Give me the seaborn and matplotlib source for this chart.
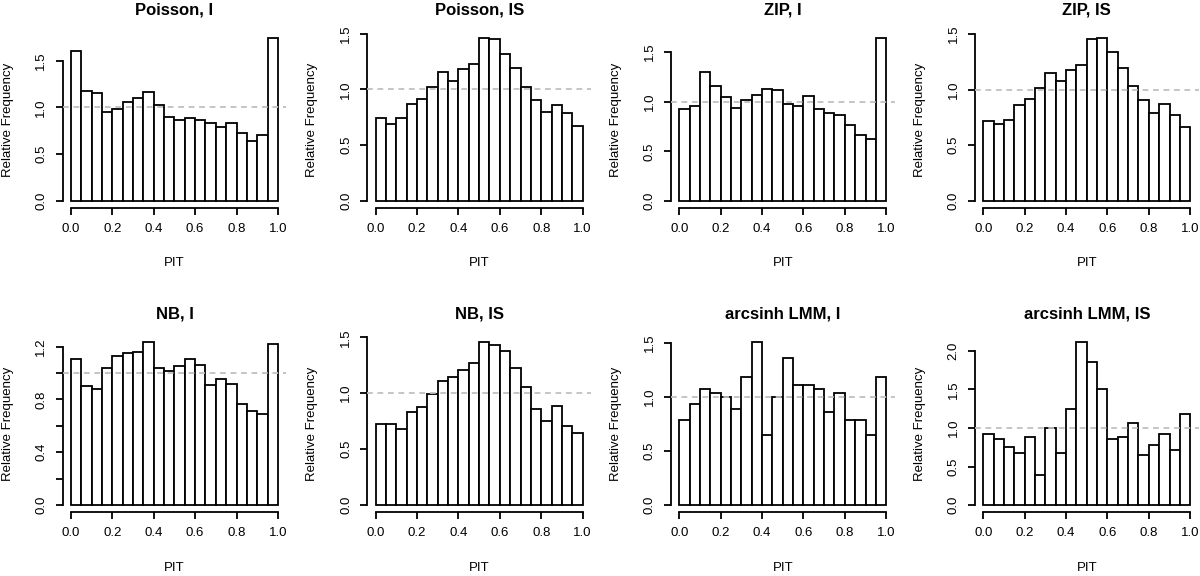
import numpy as np
import pandas as pd
import matplotlib
matplotlib.use("Agg")
import matplotlib.pyplot as plt
import seaborn as sns

# ---- data (relative frequency of PIT values in 20 equal bins on [0, 1]) ----
titles = ["Poisson, I", "Poisson, IS", "ZIP, I", "ZIP, IS",
          "NB, I", "NB, IS", "arcsinh LMM, I", "arcsinh LMM, IS"]

poisson_i = [1.60, 1.18, 1.15, 0.95, 0.98, 1.06, 1.10, 1.165, 1.03, 0.90,
             0.865, 0.89, 0.865, 0.835, 0.795, 0.835, 0.73, 0.64, 0.71, 1.74]
poisson_is = [0.745, 0.69, 0.745, 0.868, 0.916, 1.018, 1.153, 1.072, 1.18, 1.228,
              1.458, 1.455, 1.317, 1.19, 1.024, 0.907, 0.793, 0.862, 0.784, 0.668]
zip_i = [0.922, 0.952, 1.30, 1.163, 1.046, 0.935, 1.016, 1.066, 1.13, 1.12,
         0.982, 0.955, 1.053, 0.925, 0.885, 0.87, 0.77, 0.666, 0.62, 1.64]
zip_is = [0.72, 0.695, 0.728, 0.86, 0.916, 1.015, 1.15, 1.075, 1.177, 1.222,
          1.452, 1.461, 1.335, 1.19, 1.036, 0.904, 0.793, 0.868, 0.775, 0.662]
nb_i = [1.107, 0.90, 0.877, 1.038, 1.132, 1.155, 1.157, 1.233, 1.041, 1.013,
        1.054, 1.107, 1.064, 0.91, 0.952, 0.915, 0.766, 0.71, 0.69, 1.223]
nb_is = [0.725, 0.725, 0.683, 0.832, 0.877, 0.99, 1.112, 1.148, 1.205, 1.27,
         1.455, 1.432, 1.378, 1.226, 1.059, 0.862, 0.755, 0.883, 0.71, 0.647]
lmm_i = [0.785, 0.93, 1.075, 1.035, 1.00, 0.89, 1.18, 1.503, 0.644, 1.00,
         1.358, 1.106, 1.106, 1.075, 0.856, 1.038, 0.785, 0.785, 0.644, 1.18]
lmm_is = [0.926, 0.857, 0.749, 0.68, 0.887, 0.39, 1.00, 0.68, 1.25, 2.11,
          1.857, 1.502, 0.857, 0.887, 1.07, 0.645, 0.784, 0.926, 0.714, 1.18]

series = [poisson_i, poisson_is, zip_i, zip_is, nb_i, nb_is, lmm_i, lmm_is]

# y tick settings per panel (step, labelled every k-th tick)
ytick_step = [0.5, 0.5, 0.5, 0.5, 0.2, 0.5, 0.5, 0.5]
ytick_label_every = [1, 1, 1, 1, 2, 1, 1, 1]

x_ticks = [0.0, 0.2, 0.4, 0.6, 0.8, 1.0]
n_bins = 20

# ---- layout (pixels) ----
W, H = 1200, 576
DPI = 100
col_left = [62.7, 367.4, 671.0, 975.0]
reg_w = 223.5
row_top = [31.7, 335.8]
reg_h = 175.8

sns.set_theme(style="white")
plt.rcParams["font.family"] = ["Liberation Sans", "DejaVu Sans"]
FS = 9.5
LW = 1.3

fig = plt.figure(figsize=(W / DPI, H / DPI), dpi=DPI)
fig.patch.set_facecolor("white")

mids = (np.arange(n_bins) + 0.5) / n_bins

for i, (vals, title) in enumerate(zip(series, titles)):
    r, c = divmod(i, 4)
    left = col_left[c]
    top = row_top[r]
    ax = fig.add_axes([left / W, 1 - (top + reg_h) / H, reg_w / W, reg_h / H])
    ax.set_facecolor("white")

    df = pd.DataFrame({"PIT": mids, "freq": vals})
    sns.histplot(data=df, x="PIT", weights="freq", bins=n_bins,
                 binrange=(0, 1), stat="count",
                 color="white", edgecolor="black", linewidth=LW,
                 alpha=1, ax=ax)
    ax.axhline(1.0, color="#c0c0c0", lw=LW, ls=(0, (3.2, 2.6)), zorder=5)

    ymax = max(vals)
    ax.set_xlim(-0.04, 1.04)
    ax.set_ylim(-0.04 * ymax, 1.04 * ymax)

    step = ytick_step[i]
    yt = np.arange(0, 1.04 * ymax + 1e-9, step)
    yt = [round(v, 2) for v in yt]
    every = ytick_label_every[i]
    ylabs = [(f"{v:.1f}" if k % every == 0 else "") for k, v in enumerate(yt)]
    ax.set_yticks(yt)
    ax.set_yticklabels(ylabs)
    ax.set_xticks(x_ticks)
    ax.set_xticklabels([f"{v:.1f}" for v in x_ticks])

    for s in ["top", "right"]:
        ax.spines[s].set_visible(False)
    for s in ["left", "bottom"]:
        ax.spines[s].set_linewidth(LW)
        ax.spines[s].set_color("black")
    ax.spines["left"].set_bounds(0, yt[-1])
    ax.spines["bottom"].set_bounds(0, 1)

    ax.tick_params(axis="both", which="both", direction="out", length=5,
                   width=LW, color="black", labelsize=FS, labelcolor="black",
                   pad=6, left=True, bottom=True)
    ax.tick_params(axis="y", labelrotation=90)
    for lab in ax.get_yticklabels():
        lab.set_va("center")
    ax.set_xlabel("")
    ax.set_ylabel("")
    ax.grid(False)

    cx = left + reg_w / 2
    cy = top + reg_h / 2
    fig.text(cx / W, 1 - (top - 21.7) / H, title, ha="center", va="center",
             fontsize=12, fontweight="bold", color="black")
    fig.text(cx / W, 1 - (top + reg_h + 56) / H, "PIT", ha="center",
             va="center", fontsize=FS, color="black")
    fig.text((left - 55) / W, 1 - cy / H, "Relative Frequency", ha="center",
             va="center", rotation=90, fontsize=FS, color="black")

fig.savefig("out.png", dpi=DPI, facecolor="white")
